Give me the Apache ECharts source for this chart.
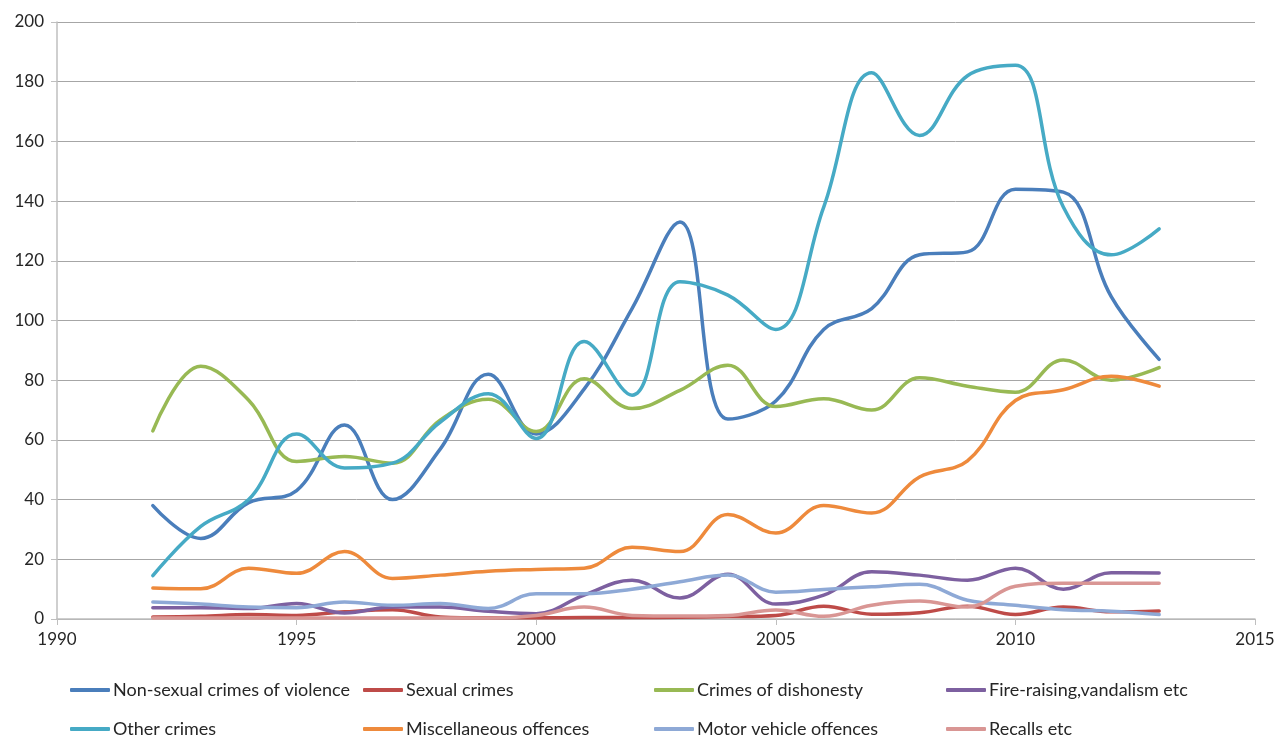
<!DOCTYPE html>
<html>
<head>
<meta charset="utf-8">
<script src="https://cdn.jsdelivr.net/npm/echarts@6/dist/echarts.min.js"></script>
<style>
html,body{margin:0;padding:0;background:#fff;}
#chart{width:1279px;height:737px;}
</style>
</head>
<body>
<div id="chart"></div>
<script>
const years = [1992,1993,1994,1995,1996,1997,1998,1999,2000,2001,2002,2003,2004,2005,2006,2007,2008,2009,2010,2011,2012,2013];

const violence   = [38, 27, 39, 43, 65, 40, 57, 82, 62, 77, 104, 133, 67, 73, 97, 104, 122, 123, 144, 143, 108, 87];
const sexual     = [0.7, 0.9, 1.5, 1.2, 2.4, 3.1, 0.7, 0.4, 0.4, 0.5, 0.5, 0.6, 0.8, 1.2, 4.3, 1.6, 2.1, 4.3, 1.5, 4, 2.4, 2.7];
const dishonesty = [63, 84.7, 73.3, 52.8, 54.4, 52.2, 66.7, 73.6, 62.8, 80.5, 70.5, 76.6, 85, 71.2, 73.8, 70, 80.8, 78, 76, 86.8, 80, 84.2];
const fireRaising= [3.8, 3.8, 3.5, 5.2, 2, 4, 4, 2.6, 1.8, 8, 13, 7, 15, 5, 8, 15.8, 14.7, 13, 17, 10, 15.5, 15.4];
const otherCrimes= [14.5, 31, 40, 62, 50.6, 52.2, 66, 75.5, 60.5, 93, 75, 113, 108.5, 97, 138, 183, 162, 182, 185.5, 138, 122, 130.7];
const misc       = [10.4, 10.1, 17, 15.3, 22.6, 13.6, 14.7, 16, 16.6, 17, 24, 22.6, 35, 28.8, 38, 35.5, 47.6, 53, 73.2, 76.8, 81.3, 78];
const motor      = [5.7, 5, 4, 3.8, 5.7, 4.6, 5.2, 3.5, 8.5, 8.5, 10, 12.5, 14.7, 9, 9.9, 10.8, 11.6, 6.3, 4.6, 3.1, 2.6, 1.5];
const recalls    = [0.3, 0.3, 0.3, 0.3, 0.3, 0.3, 0.3, 0.3, 1.2, 4, 1.2, 1, 1.2, 3, 0.9, 4.6, 6, 4, 11, 12, 12, 12];

const seriesNames = ['Non-sexual crimes of violence','Sexual crimes','Crimes of dishonesty','Fire-raising,vandalism etc','Other crimes','Miscellaneous offences','Motor vehicle offences','Recalls etc'];
const seriesData = [violence, sexual, dishonesty, fireRaising, otherCrimes, misc, motor, recalls];
const colors = ['#4A7EBB','#BE4B48','#98B954','#7D60A0','#46AAC5','#EE8A3C','#8EA9D6','#D99694'];

const FONT = 'Lato, "Open Sans", sans-serif';
const legendPos = [
  [70, 681], [363, 681], [654, 681], [946, 681],
  [70, 720], [363, 720], [654, 720], [946, 720]
];

const chart = echarts.init(document.getElementById('chart'), null, {renderer:'canvas'});
const option = {
  animation: false,
  backgroundColor: '#fff',
  color: colors,
  grid: {left: 57, right: 24, top: 22, bottom: 118, containLabel: false},
  xAxis: {
    type: 'value', min: 1990, max: 2015, interval: 5,
    axisLine: {show: true, lineStyle: {color: '#BFBFBF', width: 1.5}},
    axisTick: {show: true, inside: false, length: 6, lineStyle: {color: '#BFBFBF'}},
    axisLabel: {color: '#262626', fontSize: 17, fontFamily: FONT, margin: 12, formatter: v => String(v)},
    splitLine: {show: false}
  },
  yAxis: {
    type: 'value', min: 0, max: 200, interval: 20,
    axisLine: {show: true, lineStyle: {color: '#BFBFBF', width: 1.5}},
    axisTick: {show: true, length: 6, lineStyle: {color: '#BFBFBF'}},
    axisLabel: {color: '#262626', fontSize: 17, fontFamily: FONT, margin: 13},
    splitLine: {show: true, lineStyle: {color: '#A6A6A6', width: 1}}
  },
  legend: seriesNames.map((n, i) => ({
    data: [n], left: legendPos[i][0], top: legendPos[i][1], padding: 0,
    icon: 'roundRect', itemWidth: 40, itemHeight: 4, itemGap: 0,
    textStyle: {color: '#262626', fontSize: 18, fontFamily: FONT, padding: [0,0,0,-2]},
    selectedMode: false
  })),
  series: seriesNames.map((n, i) => ({
    name: n, type: 'line', smooth: 0.4, showSymbol: false, symbol: 'none',
    data: years.map((y, k) => [y, seriesData[i][k]]),
    lineStyle: {width: 3.5, color: colors[i], cap: 'round', join: 'round'},
    itemStyle: {color: colors[i]}
  }))
};
chart.setOption(option);
</script>
</body>
</html>
